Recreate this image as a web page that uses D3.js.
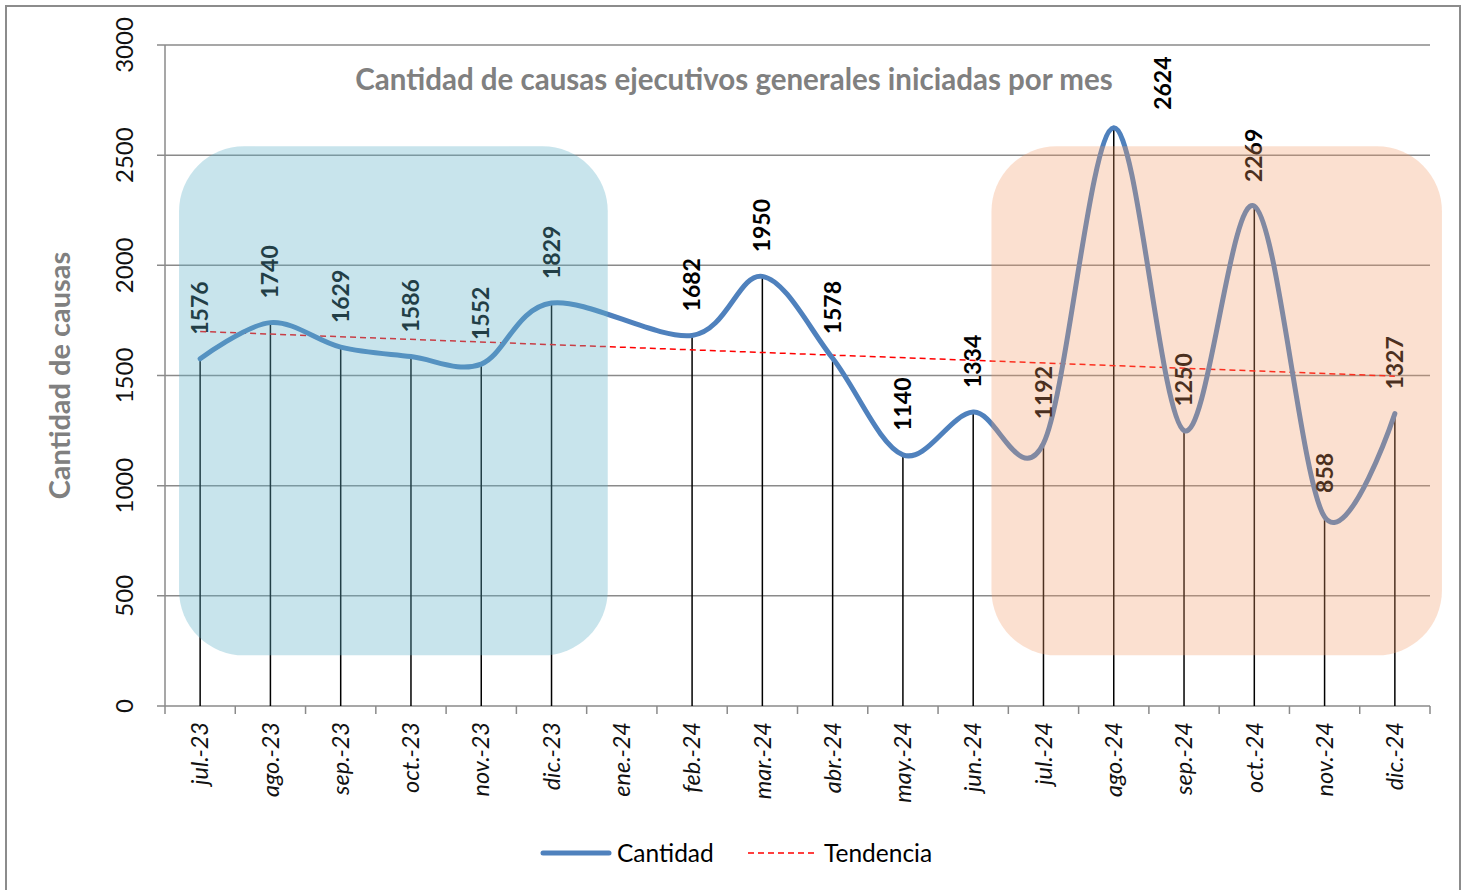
<!DOCTYPE html>
<html>
<head>
<meta charset="utf-8">
<script src="https://cdn.jsdelivr.net/npm/d3@7"></script>
<style>
  body { margin: 0; background: #fff; }
  text { font-family: Lato, "Open Sans", sans-serif; }
</style>
</head>
<body>
<div id="container"></div>
<script>
// datos
let meses = ['jul.-23', 'ago.-23', 'sep.-23', 'oct.-23', 'nov.-23', 'dic.-23', 'ene.-24',
  'feb.-24', 'mar.-24', 'abr.-24', 'may.-24', 'jun.-24', 'jul.-24', 'ago.-24',
  'sep.-24', 'oct.-24', 'nov.-24', 'dic.-24']
let cantidad = [1576, 1740, 1629, 1586, 1552, 1829, null,
  1682, 1950, 1578, 1140, 1334, 1192, 2624, 1250, 2269, 858, 1327]
let tendencia = [1700, 1497]   // valor de la linea de tendencia en jul.-23 y dic.-24
let yTicks = [0, 500, 1000, 1500, 2000, 2500, 3000]
let titulo = 'Cantidad de causas ejecutivos generales iniciadas por mes'

let screenWidth = 1468
let screenHeight = 890
let margin = {top: 45, right: 38, bottom: 184, left: 165}
let svg

function main() {
    createSVG()
    build()
}

function createSVG() {
    svg = d3.select('#container').append('svg')
      .attr('width', screenWidth)
      .attr('height', screenHeight)

    // marco del grafico
    svg.append('path')
      .attr('d', 'M6,892 V6 H1460 V892')
      .attr('fill', 'none')
      .attr('stroke', '#8c8c8c')
      .attr('stroke-width', 2)
}

function build() {
    const x = d3.scaleBand()
      .domain(meses)
      .range([margin.left, screenWidth - margin.right])
    const cx = m => x(m) + x.bandwidth() / 2

    const y = d3.scaleLinear()
      .domain([0, 3000])
      .range([screenHeight - margin.bottom, margin.top])

    const x0 = margin.left, x1 = screenWidth - margin.right
    const yBase = y(0)

    // grilla horizontal
    svg.append('g').selectAll('line')
      .data(yTicks)
      .enter()
      .append('line')
      .attr('x1', x0 - 8)
      .attr('x2', x1)
      .attr('y1', d => y(d))
      .attr('y2', d => y(d))
      .attr('stroke', '#8a8a8a')
      .attr('stroke-width', 1.5)

    // eje y
    svg.append('line')
      .attr('x1', x0).attr('x2', x0)
      .attr('y1', y(3000)).attr('y2', yBase)
      .attr('stroke', '#8a8a8a')
      .attr('stroke-width', 1.5)

    svg.append('g').selectAll('text')
      .data(yTicks)
      .enter()
      .append('text')
      .attr('transform', d => `translate(125,${y(d)}) rotate(-90)`)
      .attr('text-anchor', 'middle')
      .attr('dy', '0.35em')
      .style('font-size', '24px')
      .style('fill', '#111')
      .text(d => d)

    svg.append('text')
      .attr('transform', `translate(60,${(y(0) + y(3000)) / 2}) rotate(-90)`)
      .attr('text-anchor', 'middle')
      .attr('dy', '0.35em')
      .style('font-size', '29px')
      .style('font-weight', 'bold')
      .style('fill', '#808080')
      .text('Cantidad de causas')

    // eje x con marcas entre categorias
    const xAxis = d3.axisBottom(x).tickSize(0).tickFormat('')
    const gx = svg.append('g')
      .attr('transform', `translate(0,${yBase})`)
      .call(xAxis)
    gx.select('.domain').remove()

    svg.append('g').selectAll('line')
      .data(meses.map(m => x(m)).concat([x1]))
      .enter()
      .append('line')
      .attr('x1', d => d).attr('x2', d => d)
      .attr('y1', yBase).attr('y2', yBase + 8)
      .attr('stroke', '#8a8a8a')
      .attr('stroke-width', 1.5)

    svg.append('g').selectAll('text')
      .data(meses)
      .enter()
      .append('text')
      .attr('transform', d => `translate(${cx(d)},${yBase + 16}) rotate(-90)`)
      .attr('text-anchor', 'end')
      .attr('dy', '0.35em')
      .style('font-size', '23.5px')
      .style('font-style', 'italic')
      .style('fill', '#111')
      .text(d => d)

    let puntos = meses.map((m, i) => ({mes: m, valor: cantidad[i]}))
      .filter(d => d.valor !== null)

    // lineas de caida
    svg.append('g').selectAll('line')
      .data(puntos)
      .enter()
      .append('line')
      .attr('x1', d => cx(d.mes)).attr('x2', d => cx(d.mes))
      .attr('y1', d => y(d.valor)).attr('y2', yBase)
      .attr('stroke', '#000')
      .attr('stroke-width', 1.5)

    // tendencia
    svg.append('line')
      .attr('x1', cx(meses[0]))
      .attr('x2', cx(meses[meses.length - 1]))
      .attr('y1', y(tendencia[0]))
      .attr('y2', y(tendencia[1]))
      .attr('stroke', '#ff0000')
      .attr('stroke-width', 1.5)
      .attr('stroke-dasharray', '6,4')

    const linea = d3.line()
      .x(d => cx(d.mes))
      .y(d => y(d.valor))
      .curve(d3.curveCatmullRom.alpha(0))

    svg.append('path')
      .datum(puntos)
      .attr('d', linea)
      .attr('fill', 'none')
      .attr('stroke', '#4f81bd')
      .attr('stroke-width', 5)
      .attr('stroke-linejoin', 'round')
      .attr('stroke-linecap', 'round')

    // etiquetas de datos (la de ago.-24 va corrida para no tapar el titulo)
    const corrida = {'ago.-24': [49, 6]}
    const dx = d => corrida[d.mes] ? corrida[d.mes][0] : 0
    const dy = d => corrida[d.mes] ? corrida[d.mes][1] : 0
    svg.append('g').selectAll('text')
      .data(puntos)
      .enter()
      .append('text')
      .attr('transform', d => `translate(${cx(d.mes) + dx(d)},${y(d.valor) - 24 + dy(d)}) rotate(-90)`)
      .attr('text-anchor', 'start')
      .attr('dy', '0.35em')
      .style('font-size', '23px')
      .style('font-weight', 'bold')
      .style('fill', '#000')
      .text(d => d.valor)

    // recuadros resaltados
    const bw = x.bandwidth()
    svg.append('rect')
      .attr('x', cx('jul.-23') - 0.3 * bw)
      .attr('y', y(2540))
      .attr('width', cx('dic.-23') + 0.8 * bw - (cx('jul.-23') - 0.3 * bw))
      .attr('height', y(230) - y(2540))
      .attr('rx', 65)
      .style('fill', 'rgb(98,178,200)')
      .style('opacity', 0.35)

    svg.append('rect')
      .attr('x', cx('jul.-24') - 0.74 * bw)
      .attr('y', y(2540))
      .attr('width', cx('dic.-24') + 0.67 * bw - (cx('jul.-24') - 0.74 * bw))
      .attr('height', y(230) - y(2540))
      .attr('rx', 65)
      .style('fill', 'rgb(242,155,103)')
      .style('opacity', 0.31)

    svg.append('text')
      .attr('x', 734)
      .attr('y', 90)
      .attr('text-anchor', 'middle')
      .style('font-size', '29.5px')
      .style('font-weight', 'bold')
      .style('fill', '#808080')
      .text(titulo)

    // leyenda
    let ley = svg.append('g').attr('transform', 'translate(0,853)')
    ley.append('line')
      .attr('x1', 543).attr('x2', 609)
      .attr('stroke', '#4f81bd')
      .attr('stroke-width', 5)
      .attr('stroke-linecap', 'round')
    ley.append('text')
      .attr('x', 617).attr('dy', '0.35em')
      .style('font-size', '24.5px')
      .text('Cantidad')
    ley.append('line')
      .attr('x1', 748).attr('x2', 818)
      .attr('stroke', '#ff0000')
      .attr('stroke-width', 1.5)
      .attr('stroke-dasharray', '6,4')
    ley.append('text')
      .attr('x', 824).attr('dy', '0.35em')
      .style('font-size', '24.5px')
      .text('Tendencia')
}

main()
</script>
</body>
</html>
